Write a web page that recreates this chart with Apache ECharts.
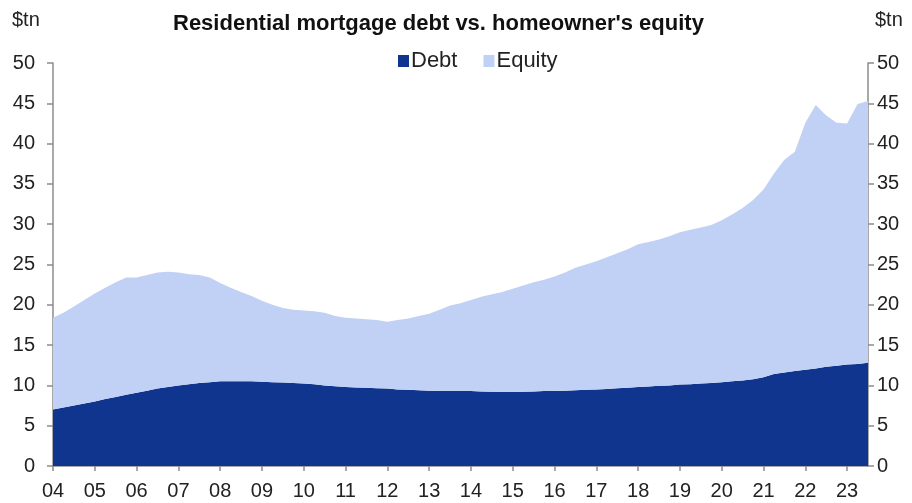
<!DOCTYPE html>
<html>
<head>
<meta charset="utf-8">
<script src="https://cdn.jsdelivr.net/npm/echarts@6/dist/echarts.min.js"></script>
<style>
html,body{margin:0;padding:0;background:#fff;}
#chart{width:912px;height:503px;}
</style>
</head>
<body>
<div id="chart"></div>
<script>
// Quarterly, 2004Q1 .. 2023Q3
const startYear = 2004;
const nQuarters = 79;
const quarters = [];
for (let i = 0; i < nQuarters; i++) {
  quarters.push((startYear + Math.floor(i / 4)) + 'Q' + (i % 4 + 1));
}

// Residential mortgage debt, $tn
const debt = [
  7.0, 7.25, 7.5, 7.75, 8.0, 8.3, 8.55, 8.85,
  9.1, 9.35, 9.6, 9.8, 10.0, 10.15, 10.3, 10.4,
  10.5, 10.5, 10.5, 10.5, 10.45, 10.4, 10.35, 10.3,
  10.25, 10.15, 10.0, 9.9, 9.8, 9.75, 9.7, 9.65,
  9.6, 9.5, 9.45, 9.4, 9.35, 9.3, 9.3, 9.3,
  9.3, 9.25, 9.2, 9.2, 9.2, 9.2, 9.25, 9.3,
  9.3, 9.35, 9.4, 9.45, 9.5, 9.55, 9.65, 9.7,
  9.8, 9.85, 9.95, 10.0, 10.1, 10.15, 10.25, 10.3,
  10.4, 10.5, 10.6, 10.75, 11.0, 11.4, 11.6, 11.8,
  11.95, 12.1, 12.3, 12.45, 12.6, 12.65, 12.8
];

// Homeowner's equity, $tn
const equity = [
  11.4, 11.75, 12.3, 12.85, 13.4, 13.8, 14.25, 14.55,
  14.3, 14.35, 14.4, 14.3, 14.0, 13.65, 13.4, 13.0,
  12.2, 11.6, 11.1, 10.6, 10.05, 9.6, 9.25, 9.1,
  9.05, 9.05, 9.0, 8.7, 8.6, 8.55, 8.5, 8.45,
  8.3, 8.6, 8.85, 9.2, 9.55, 10.1, 10.6, 10.9,
  11.3, 11.75, 12.1, 12.4, 12.8, 13.2, 13.55, 13.8,
  14.2, 14.65, 15.2, 15.55, 15.9, 16.35, 16.75, 17.2,
  17.7, 17.95, 18.15, 18.5, 18.9, 19.15, 19.35, 19.6,
  20.1, 20.7, 21.4, 22.25, 23.3, 24.9, 26.4, 27.2,
  30.65, 32.7, 31.2, 30.15, 29.9, 32.25, 32.5
];

const yTicks = { min: 0, max: 50, interval: 5 };
const FONT = '"Liberation Sans", Arial, sans-serif';
const axisGray = '#8c8c8c';

const chart = echarts.init(document.getElementById('chart'), null, {renderer: 'canvas'});

function yAxisCfg(pos, margin) {
  return {
    type: 'value', position: pos,
    min: yTicks.min, max: yTicks.max, interval: yTicks.interval,
    axisLine: {show: true, lineStyle: {color: axisGray, width: 1.5}},
    axisTick: {show: true, length: 6, lineStyle: {color: axisGray, width: 1.5}},
    axisLabel: {color: '#222', fontFamily: FONT, fontSize: 20, margin: margin},
    splitLine: {show: false}
  };
}

chart.setOption({
  animation: false,
  backgroundColor: '#fff',
  title: {
    text: "Residential mortgage debt vs. homeowner's equity",
    left: 168, top: 8,
    textStyle: {fontFamily: FONT, fontSize: 22, fontWeight: 'bold', color: '#111'}
  },
  graphic: [
    {type: 'text', left: 12, top: 10, style: {text: '$tn', font: '20px ' + FONT, fill: '#222'}},
    {type: 'text', left: 875, top: 10, style: {text: '$tn', font: '20px ' + FONT, fill: '#222'}}
  ],
  legend: {
    top: 50, left: 398,
    itemWidth: 11, itemHeight: 12, itemGap: 26,
    icon: 'rect',
    padding: 0,
    textStyle: {fontFamily: FONT, fontSize: 22, color: '#222', padding: [0, 0, 0, -3]},
    data: ['Debt', 'Equity']
  },
  grid: {left: 53, right: 44, top: 63, bottom: 37, containLabel: false},
  xAxis: {
    type: 'category',
    data: quarters,
    boundaryGap: false,
    axisLine: {show: true, lineStyle: {color: axisGray, width: 1.5}},
    axisTick: {show: true, interval: 3, length: 5, lineStyle: {color: axisGray, width: 1.5}},
    axisLabel: {
      interval: 3, margin: 15, color: '#222', fontFamily: FONT, fontSize: 20,
      formatter: function (v) { return v.slice(2, 4); }
    }
  },
  yAxis: [yAxisCfg('left', 18), yAxisCfg('right', 9)],
  series: [
    {
      name: 'Debt', type: 'line', stack: 'total', data: debt,
      showSymbol: false, symbol: 'none',
      lineStyle: {width: 0}, itemStyle: {color: '#0F358F'},
      areaStyle: {color: '#0F358F', opacity: 1}
    },
    {
      name: 'Equity', type: 'line', stack: 'total', data: equity,
      showSymbol: false, symbol: 'none',
      lineStyle: {width: 0}, itemStyle: {color: '#C0D1F5'},
      areaStyle: {color: '#C0D1F5', opacity: 1}
    }
  ]
});
</script>
</body>
</html>
